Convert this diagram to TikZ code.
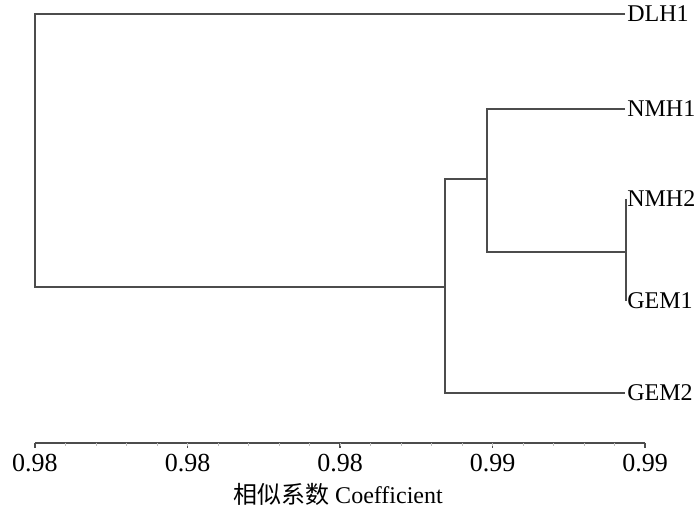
\documentclass[tikz,border=0pt]{standalone}
\usepackage{fontspec}
\setmainfont{Liberation Serif}
\newfontfamily\cjk{Noto Sans CJK SC}
\usetikzlibrary{calc}
\tikzset{%
  leaf/.style   = {anchor=west, inner sep=1.5pt, font=\fontsize{18}{20}\selectfont},
  branch/.style = {draw, line width=1pt, color=black!70},
  ticklab/.style = {inner sep=0pt, font=\fontsize{19.5}{21}\selectfont},
  axtitle/.style = {inner sep=0pt, font=\fontsize{18}{20}\selectfont}
}
\tikzstyle{axis} = [draw, line width=1pt, color=black!70]

\begin{document}
\begin{tikzpicture}[x=0.75pt, y=-0.75pt]
\useasboundingbox (0,0) rectangle (700,516);

  \node [leaf] (dlh1) at (625,14) {DLH1};
  \node [leaf] (nmh1) at (625,109) {NMH1};
  \node [leaf] (nmh2) at (625,199) {NMH2};
  \node [leaf] (gem1) at (625,301) {GEM1};
  \node [leaf] (gem2) at (625,393) {GEM2};

  \coordinate (c) at (626,252);
  \coordinate (b) at (487,179);
  \coordinate (a) at (445,287);
  \coordinate (r) at (35,150);

  \draw [branch] (dlh1.west) -| (r) |- (a);
  \draw [branch] (b) -| (a) |- (gem2.west);
  \draw [branch] (nmh1.west) -| (b) |- (c);
  \draw [branch] (c |- nmh2.west) -- (c |- gem1.west);

  % axis
  \coordinate (ax0) at (35,443);
  \coordinate (ax1) at (645,443);
  \draw [axis] (ax0) -- (ax1);
  \foreach \i/\v in {0/0.98,1/0.98,2/0.98,3/0.99,4/0.99}{
    \coordinate (t\i) at ($(ax0)!\i/4!(ax1)$);
    \draw [axis] (t\i) -- ++(0,5);
    \node [ticklab] (l\i) at ($(t\i)+(0,20)$) {\v};
  }
  \foreach \j in {1,...,19}{
    \draw [axis, line width=0.5pt, color=black!25] ($(ax0)!\j/20!(ax1)$) -- ++(0,3);
  }

  \node [axtitle] (xlab) at (338,494) {{\cjk 相似系数} Coefficient};

\end{tikzpicture}
\end{document}
